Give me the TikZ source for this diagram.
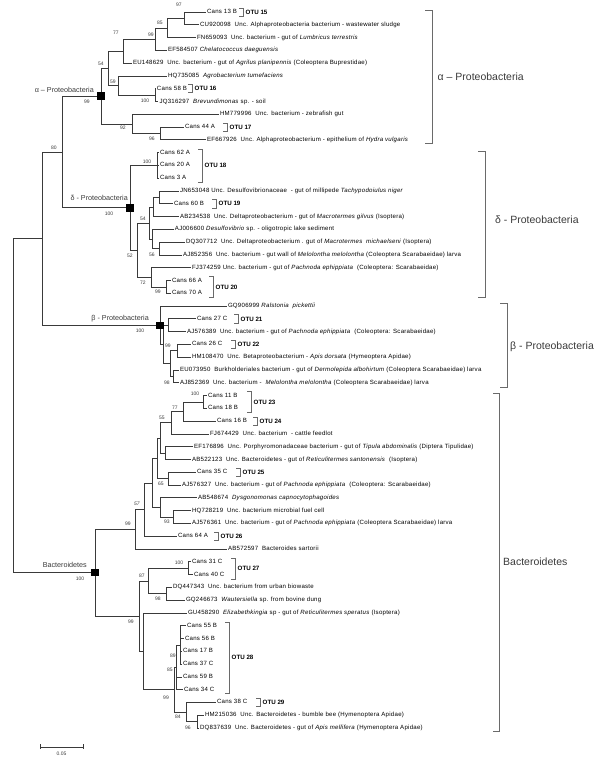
\documentclass[tikz,border=0pt]{standalone}
\usepackage{fontspec}
\setmainfont{Liberation Sans}
\newfontfamily\leaffont[LetterSpace=4]{Liberation Sans}
\definecolor{ln}{HTML}{3A3A3A}
\definecolor{bk}{HTML}{6A6A6A}
\tikzset{
  br/.style={draw=ln, line width=0.75pt},
  brk/.style={draw=bk, line width=0.75pt},
  lf/.style={anchor=west, inner sep=0pt, outer xsep=1.5pt, font=\leaffont\fontsize{6.1}{7}\selectfont, text height=4.4pt, text depth=1.3pt},
  bs/.style={inner sep=0pt, font=\fontsize{5}{6}\selectfont, text=ln},
  otu/.style={anchor=west, inner sep=0pt, font=\fontsize{6.2}{7}\selectfont\bfseries},
  big/.style={anchor=west, inner sep=0pt, font=\fontsize{10.5}{12}\selectfont, text=ln},
  small/.style={anchor=east, inner sep=0pt, font=\fontsize{7.2}{8}\selectfont, text=ln},
  sq/.style={fill=black, minimum size=7.5pt, inner sep=0pt}
}
\begin{document}
\begin{tikzpicture}[x=1pt,y=-12.786pt]
\path[use as bounding box] (0,-0.9385) rectangle (600,58.893);
% ---------- internal node coordinates ----------
\coordinate (R) at (13,30.8);
\coordinate (N80) at (42,17.72);
\coordinate (NAD) at (62,10.945);
\coordinate (SA) at (101,6.578);
\coordinate (N54) at (108,4.406);
\coordinate (N77) at (123,3.0625);
\coordinate (N99a) at (155,2.125);
\coordinate (N85) at (167,1.25);
\coordinate (N97) at (184,0.5);
\coordinate (N59) at (118,5.75);
\coordinate (N100a) at (155,6.5);
\coordinate (N92) at (132,8.75);
\coordinate (N96) at (160,9.5);
\coordinate (SD) at (130,15.3125);
\coordinate (N100d) at (157,12);
\coordinate (N52) at (137,18.625);
\coordinate (N54d) at (149,16.5);
\coordinate (NA) at (153,15.25);
\coordinate (NJ) at (159,14.5);
\coordinate (NB) at (152,17.75);
\coordinate (N56) at (159,18.5);
\coordinate (N72) at (151,20.75);
\coordinate (N99d) at (166,21.5);
\coordinate (SB) at (160,24.5);
\coordinate (N99b) at (163,26);
\coordinate (N27) at (168,24.5);
\coordinate (NQ) at (170,27.5);
\coordinate (N26) at (177,26.5);
\coordinate (N98b) at (173,28.5);
\coordinate (SBac) at (95,43.85);
\coordinate (N99e) at (135,40.45);
\coordinate (N57) at (144,38.9);
\coordinate (NY) at (152,36.83);
\coordinate (NW) at (157,34.9);
\coordinate (NX) at (160,33.31);
\coordinate (N55) at (171,32.125);
\coordinate (N77e) at (183,31.25);
\coordinate (N100e) at (203,30.5);
\coordinate (NEF) at (165,34.5);
\coordinate (N65) at (168,36.5);
\coordinate (NZ) at (160,38.75);
\coordinate (N93) at (173,39.5);
\coordinate (N99f) at (139,47.25);
\coordinate (N87) at (148,44.5);
\coordinate (N100f) at (188,43.5);
\coordinate (N98e) at (166,45.5);
\coordinate (N99g) at (143,50);
\coordinate (N99c) at (174,53);
\coordinate (N85e) at (176,51.25);
\coordinate (N89) at (180,49.5);
\coordinate (N84) at (186,54.75);
\coordinate (N96e) at (197,55.5);
% ---------- leaves ----------
\node[lf] (L0) at (205.5,0) {Cans 13 B};
\node[lf] (L1) at (198.5,1) {CU920098\ \ Unc. Alphaproteobacteria bacterium - wastewater sludge};
\node[lf] (L2) at (195.5,2) {FN659093\ \ Unc. bacterium - gut of \textit{Lumbricus terrestris}};
\node[lf] (L3) at (166.5,3) {EF584507 \textit{Chelatococcus daeguensis}};
\node[lf] (L4) at (131.5,4) {EU148629\ \ Unc. bacterium - gut of \textit{Agrilus planipennis} (Coleoptera Buprestidae)};
\node[lf] (L5) at (166.5,5) {HQ735085\ \ \textit{Agrobacterium tumefaciens}};
\node[lf] (L6) at (155.5,6) {Cans 58 B};
\node[lf] (L7) at (158,7) {JQ316297\ \ \textit{Brevundimonas} sp. - soil};
\node[lf] (L8) at (218.5,8) {HM779996\ \ Unc. bacterium - zebrafish gut};
\node[lf] (L9) at (183.5,9) {Cans 44 A};
\node[lf] (L10) at (205.5,10) {EF667926\ \ Unc. Alphaproteobacterium - epithelium of \textit{Hydra vulgaris}};
\node[lf] (L11) at (158.5,11) {Cans 62 A};
\node[lf] (L12) at (158.5,12) {Cans 20 A};
\node[lf] (L13) at (158.5,13) {Cans 3 A};
\node[lf] (L14) at (178.5,14) {JN653048 Unc. Desulfovibrionaceae\ \ - gut of millipede \textit{Tachypodoiulus niger}};
\node[lf] (L15) at (172.5,15) {Cans 60 B};
\node[lf] (L16) at (178.5,16) {AB234538\ \ Unc. Deltaproteobacterium - gut of \textit{Macrotermes gilvus} (Isoptera)};
\node[lf] (L17) at (173.5,17) {AJ006600 \textit{Desulfovibrio} sp. - oligotropic lake sediment};
\node[lf] (L18) at (184.5,18) {DQ307712\ \ Unc. Deltaproteobacterium . gut of \textit{Macrotermes\ \ michaelseni} (Isoptera)};
\node[lf] (L19) at (181.5,19) {AJ852356\ \ Unc. bacterium - gut wall of \textit{Melolontha melolontha} (Coleoptera Scarabaeidae) larva};
\node[lf] (L20) at (190.5,20) {FJ374259 Unc. bacterium - gut of \textit{Pachnoda ephippiata}\ \ (Coleoptera: Scarabaeidae)};
\node[lf] (L21) at (170.5,21) {Cans 66 A};
\node[lf] (L22) at (170.5,22) {Cans 70 A};
\node[lf] (L23) at (226.5,23) {GQ906999 \textit{Ralstonia\ \ pickettii}};
\node[lf] (L24) at (195.5,24) {Cans 27 C};
\node[lf] (L25) at (185.5,25) {AJ576389\ \ Unc. bacterium - gut of \textit{Pachnoda ephippiata}\ \ (Coleoptera: Scarabaeidae)};
\node[lf] (L26) at (190.5,26) {Cans 26 C};
\node[lf] (L27) at (190.5,27) {HM108470\ \ Unc. Betaproteobacterium - \textit{Apis dorsata} (Hymeoptera Apidae)};
\node[lf] (L28) at (178.5,28) {EU073950\ \ Burkholderiales bacterium - gut of \textit{Dermolepida albohirtum} (Coleoptera Scarabaeidae) larva};
\node[lf] (L29) at (178.5,29) {AJ852369\ \ Unc. bacterium -\ \ \textit{Melolontha melolontha} (Coleoptera Scarabaeidae) larva};
\node[lf] (L30) at (206.5,30) {Cans 11 B};
\node[lf] (L31) at (206.5,31) {Cans 18 B};
\node[lf] (L32) at (215.5,32) {Cans 16 B};
\node[lf] (L33) at (208.5,33) {FJ674429\ \ Unc. bacterium\ \ - cattle feedlot};
\node[lf] (L34) at (192.5,34) {EF176896\ \ Unc. Porphyromonadaceae bacterium - gut of \textit{Tipula abdominalis} (Diptera Tipulidae)};
\node[lf] (L35) at (190.5,35) {AB522123\ \ Unc. Bacteroidetes - gut of \textit{Reticulitermes santonensis}\ \ (Isoptera)};
\node[lf] (L36) at (195.5,36) {Cans 35 C};
\node[lf] (L37) at (180.5,37) {AJ576327\ \ Unc. bacterium - gut of \textit{Pachnoda ephippiata}\ \ (Coleoptera: Scarabaeidae)};
\node[lf] (L38) at (196.5,38) {AB548674\ \ \textit{Dysgonomonas capnocytophagoides}};
\node[lf] (L39) at (190.5,39) {HQ728219\ \ Unc. bacterium microbial fuel cell};
\node[lf] (L40) at (190.5,40) {AJ576361\ \ Unc. bacterium - gut of \textit{Pachnoda ephippiata} (Coleoptera Scarabaeidae) larva};
\node[lf] (L41) at (176.5,41) {Cans 64 A};
\node[lf] (L42) at (226.5,42) {AB572597\ \ Bacteroides sartorii};
\node[lf] (L43) at (190.5,43) {Cans 31 C};
\node[lf] (L44) at (192.5,44) {Cans 40 C};
\node[lf] (L45) at (171.5,45) {DQ447343\ \ Unc. bacterium from urban biowaste};
\node[lf] (L46) at (184.5,46) {GQ246673\ \ \textit{Wautersiella} sp. from bovine dung};
\node[lf] (L47) at (186.5,47) {GU458290\ \ \textit{Elizabethkingia} sp - gut of \textit{Reticulitermes speratus} (Isoptera)};
\node[lf] (L48) at (185.5,48) {Cans 55 B};
\node[lf] (L49) at (183.5,49) {Cans 56 B};
\node[lf] (L50) at (181.5,50) {Cans 17 B};
\node[lf] (L51) at (181.5,51) {Cans 37 C};
\node[lf] (L52) at (181.5,52) {Cans 59 B};
\node[lf] (L53) at (182.5,53) {Cans 34 C};
\node[lf] (L54) at (215.5,54) {Cans 38 C};
\node[lf] (L55) at (203.5,55) {HM215036\ \ Unc. Bacteroidetes - bumble bee (Hymenoptera Apidae)};
\node[lf] (L56) at (198.5,56) {DQ837639\ \ Unc. Bacteroidetes - gut of \textit{Apis mellifera} (Hymenoptera Apidae)};
% ---------- branches ----------
\draw[br] (R) |- (N80) (R) |- (SBac);
\draw[br] (N80) |- (NAD) (N80) |- (SB);
\draw[br] (NAD) |- (SA) (NAD) |- (SD);
\draw[br] (SA) |- (N54) (SA) |- (N92);
\draw[br] (N54) |- (N77) (N54) |- (N59);
\draw[br] (N77) |- (N99a) (N77) |- (L4.west);
\draw[br] (N99a) |- (N85) (N99a) |- (L3.west);
\draw[br] (N85) |- (N97) (N85) |- (L2.west);
\draw[br] (N97) |- (L0.west) (N97) |- (L1.west);
\draw[br] (N59) |- (L5.west) (N59) |- (N100a);
\draw[br] (N100a) |- (L6.west) (N100a) |- (L7.west);
\draw[br] (N92) |- (L8.west) (N92) |- (N96);
\draw[br] (N96) |- (L9.west) (N96) |- (L10.west);
\draw[br] (SD) |- (N100d) (SD) |- (N52);
\draw[br] (N100d) |- (L11.west) (N100d) |- (L12.west) (N100d) |- (L13.west);
\draw[br] (N52) |- (N54d) (N52) |- (N72);
\draw[br] (N54d) |- (NA) (N54d) |- (NB);
\draw[br] (NA) |- (NJ) (NA) |- (L16.west);
\draw[br] (NJ) |- (L14.west) (NJ) |- (L15.west);
\draw[br] (NB) |- (L17.west) (NB) |- (N56);
\draw[br] (N56) |- (L18.west) (N56) |- (L19.west);
\draw[br] (N72) |- (L20.west) (N72) |- (N99d);
\draw[br] (N99d) |- (L21.west) (N99d) |- (L22.west);
\draw[br] (SB) |- (L23.west) (SB) |- (N99b);
\draw[br] (N99b) |- (N27) (N99b) |- (NQ);
\draw[br] (N27) |- (L24.west) (N27) |- (L25.west);
\draw[br] (NQ) |- (N26) (NQ) |- (N98b);
\draw[br] (N26) |- (L26.west) (N26) |- (L27.west);
\draw[br] (N98b) |- (L28.west) (N98b) |- (L29.west);
\draw[br] (SBac) |- (N99e) (SBac) |- (N99f);
\draw[br] (N99e) |- (N57) (N99e) |- (L42.west);
\draw[br] (N57) |- (NY) (N57) |- (L41.west);
\draw[br] (NY) |- (NW) (NY) |- (NZ);
\draw[br] (NW) |- (NX) (NW) |- (N65);
\draw[br] (NX) |- (N55) (NX) |- (NEF);
\draw[br] (N55) |- (N77e) (N55) |- (L33.west);
\draw[br] (N77e) |- (N100e) (N77e) |- (L32.west);
\draw[br] (N100e) |- (L30.west) (N100e) |- (L31.west);
\draw[br] (NEF) |- (L34.west) (NEF) |- (L35.west);
\draw[br] (N65) |- (L36.west) (N65) |- (L37.west);
\draw[br] (NZ) |- (L38.west) (NZ) |- (N93);
\draw[br] (N93) |- (L39.west) (N93) |- (L40.west);
\draw[br] (N99f) |- (N87) (N99f) |- (N99g);
\draw[br] (N87) |- (N100f) (N87) |- (N98e);
\draw[br] (N100f) |- (L43.west) (N100f) |- (L44.west);
\draw[br] (N98e) |- (L45.west) (N98e) |- (L46.west);
\draw[br] (N99g) |- (L47.west) (N99g) |- (N99c);
\draw[br] (N99c) |- (N85e) (N99c) |- (N84);
\draw[br] (N85e) |- (N89) (N85e) |- (L52.west) (N85e) |- (L53.west);
\draw[br] (N89) |- (L48.west) (N89) |- (L49.west) (N89) |- (L50.west) (N89) |- (L51.west);
\draw[br] (N84) |- (L54.west) (N84) |- (N96e);
\draw[br] (N96e) |- (L55.west) (N96e) |- (L56.west);
% ---------- squares ----------
\node[sq] (SAbox) at (SA) {};
\node[sq] (SDbox) at (SD) {};
\node[sq] (SBbox) at (SB) {};
\node[sq] (SBacbox) at (SBac) {};
% ---------- small clade labels ----------
\node[small] (ta) at (94,6.1) {α – Proteobacteria};
\node[small] (td) at (128,14.55) {δ - Proteobacteria};
\node[small] (tb) at (149,24.0) {β - Proteobacteria};
\node[small] (tc) at (87,43.25) {Bacteroidetes};
% ---------- bootstrap values ----------
\node[bs] (b01) at (179,-0.55) {97};
\node[bs] (b02) at (160,0.86) {85};
\node[bs] (b03) at (151,1.80) {99};
\node[bs] (b04) at (116,1.64) {77};
\node[bs] (b05) at (101,4.07) {54};
\node[bs] (b06) at (113,5.47) {59};
\node[bs] (b07) at (145,6.96) {100};
\node[bs] (b08) at (123,9.07) {92};
\node[bs] (b09) at (152,9.93) {96};
\node[bs] (b10) at (87,7.04) {99};
\node[bs] (b11) at (54,10.64) {80};
\node[bs] (b12) at (109,15.8) {100};
\node[bs] (b13) at (147,11.73) {100};
\node[bs] (b14) at (143,16.19) {54};
\node[bs] (b15) at (130,19.08) {52};
\node[bs] (b16) at (152,19.0) {56};
\node[bs] (b17) at (143,21.2) {72};
\node[bs] (b18) at (158,21.9) {99};
\node[bs] (b19) at (140,24.95) {100};
\node[bs] (b20) at (168,26.12) {99};
\node[bs] (b21) at (167,29.02) {98};
\node[bs] (b22) at (195,29.88) {100};
\node[bs] (b23) at (175,30.97) {77};
\node[bs] (b24) at (162,31.75) {55};
\node[bs] (b25) at (161,36.92) {65};
\node[bs] (b26) at (137,38.48) {\textit{57}};
\node[bs] (b27) at (167,39.89) {93};
\node[bs] (b28) at (128,40.04) {99};
\node[bs] (b29) at (80,44.35) {100};
\node[bs] (b30) at (179,43.1) {100};
\node[bs] (b31) at (142,44.11) {87};
\node[bs] (b32) at (158,45.9) {98};
\node[bs] (b33) at (131,47.71) {99};
\node[bs] (b34) at (173,50.37) {89};
\node[bs] (b35) at (170,51.46) {85};
\node[bs] (b36) at (166,53.65) {99};
\node[bs] (b37) at (178,55.14) {84};
\node[bs] (b38) at (188,56.0) {96};
% ---------- OTU brackets ----------
\draw[brk] (239,-0.32) -- (243,-0.32) -- (243,0.32) -- (239,0.32);
\node[otu] (o15) at (245.5,0) {OTU 15};
\draw[brk] (188,5.68) -- (192,5.68) -- (192,6.32) -- (188,6.32);
\node[otu] (o16) at (194.5,6) {OTU 16};
\draw[brk] (223,8.68) -- (227,8.68) -- (227,9.32) -- (223,9.32);
\node[otu] (o17) at (229.5,9) {OTU 17};
\draw[brk] (198,10.75) -- (202,10.75) -- (202,13.3) -- (198,13.3);
\node[otu] (o18) at (204.5,12) {OTU 18};
\draw[brk] (212,14.68) -- (216,14.68) -- (216,15.32) -- (212,15.32);
\node[otu] (o19) at (218.5,15) {OTU 19};
\draw[brk] (209,20.7) -- (213,20.7) -- (213,22.3) -- (209,22.3);
\node[otu] (o20) at (215.5,21.5) {OTU 20};
\draw[brk] (234,23.68) -- (238,23.68) -- (238,24.32) -- (234,24.32);
\node[otu] (o21) at (240.5,24) {OTU 21};
\draw[brk] (231,25.68) -- (235,25.68) -- (235,26.32) -- (231,26.32);
\node[otu] (o22) at (237.5,26) {OTU 22};
\draw[brk] (247,29.7) -- (251,29.7) -- (251,31.3) -- (247,31.3);
\node[otu] (o23) at (253.5,30.5) {OTU 23};
\draw[brk] (253,31.68) -- (257,31.68) -- (257,32.32) -- (253,32.32);
\node[otu] (o24) at (259.5,32) {OTU 24};
\draw[brk] (236,35.68) -- (240,35.68) -- (240,36.32) -- (236,36.32);
\node[otu] (o25) at (242.5,36) {OTU 25};
\draw[brk] (214,40.68) -- (218,40.68) -- (218,41.32) -- (214,41.32);
\node[otu] (o26) at (220.5,41) {OTU 26};
\draw[brk] (231,42.7) -- (235,42.7) -- (235,44.4) -- (231,44.4);
\node[otu] (o27) at (237.5,43.55) {OTU 27};
\draw[brk] (225,47.7) -- (229,47.7) -- (229,53.3) -- (225,53.3);
\node[otu] (o28) at (231.5,50.5) {OTU 28};
\draw[brk] (256,53.68) -- (260,53.68) -- (260,54.32) -- (256,54.32);
\node[otu] (o29) at (262.5,54) {OTU 29};
% ---------- clade brackets ----------
\draw[brk] (425,-0.16) -- (432,-0.16) -- (432,10.25) -- (425,10.25);
\node[big] (ca) at (437.5,5.08) {α – Proteobacteria};
\draw[brk] (478,10.87) -- (485,10.87) -- (485,22.29) -- (478,22.29);
\node[big] (cd) at (495,16.27) {δ - Proteobacteria};
\draw[brk] (500,22.76) -- (507,22.76) -- (507,29.33) -- (500,29.33);
\node[big] (cb) at (510,26.2) {β - Proteobacteria};
\draw[brk] (493,29.8) -- (499,29.8) -- (499,56.23) -- (493,56.23);
\node[big] (cc) at (503,43.0) {Bacteroidetes};
% ---------- scale bar ----------
\coordinate (sb1) at (40,57.48);
\coordinate (sb2) at (83,57.48);
\draw[br] (sb1) -- (sb2);
\draw[br] ([yshift=2.5pt]sb1) -- ([yshift=-2.5pt]sb1);
\draw[br] ([yshift=2.5pt]sb2) -- ([yshift=-2.5pt]sb2);
\node[bs] (sbl) at (61.5,57.98) {0.05};
\end{tikzpicture}
\end{document}
